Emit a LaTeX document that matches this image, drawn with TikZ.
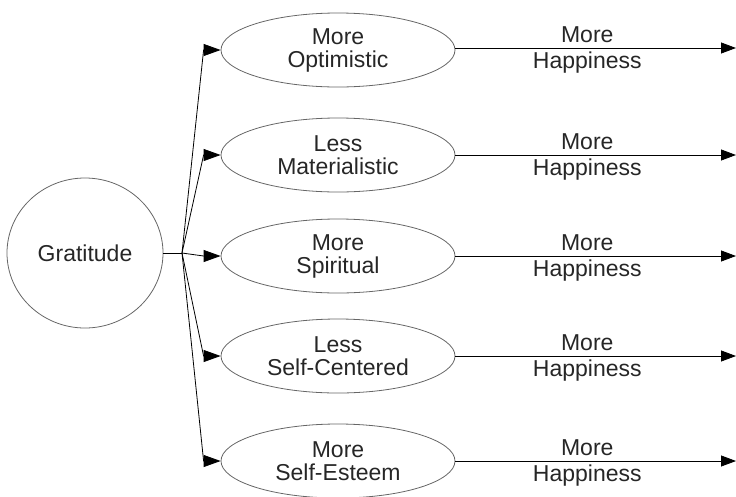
\documentclass[tikz,border=0pt]{standalone}
\usepackage{fontspec}
\setmainfont{Liberation Sans}
\usetikzlibrary{arrows.meta,shapes.geometric}

\begin{document}
\begin{tikzpicture}[
    x=1pt, y=-1pt,
    every node/.style={color=black!85, font=\fontsize{23}{23}\selectfont, align=center},
    cause/.style={ellipse, draw=black!60, line width=0.8pt, inner sep=0pt,
    minimum width=156, minimum height=150},
    effect/.style={ellipse, draw=black!60, line width=0.8pt, inner sep=0pt,
    minimum width=234, minimum height=74},
    more/.style={pos=0.47, anchor=base, yshift=6pt},
    happy/.style={pos=0.47, anchor=base, yshift=-20pt},
    pile/.style={line width=0.8pt, -{Triangle[length=17pt, width=12pt]}},
    result/.style={line width=0.8pt, -{Triangle[length=15pt, width=11pt]}}
    ]
    \useasboundingbox (0,0) rectangle (736,496);

    % cause
    \node[cause] (grat) at (85,253) {Gratitude};
    \coordinate (split) at (182,253);

    % effects
    \node[effect] (opt) at (338,50) {More\\Optimistic};
    \node[effect] (mat) at (338,155) {Less\\Materialistic};
    \node[effect] (spi) at (338,256) {More\\Spiritual};
    \node[effect] (cen) at (338,356) {Less\\Self-Centered};
    \node[effect] (est) at (338,461) {More\\Self-Esteem};

    % free ends
    \coordinate (end1) at (736,48);
    \coordinate (end2) at (736,155);
    \coordinate (end3) at (736,256);
    \coordinate (end4) at (736,356);
    \coordinate (end5) at (736,461);

    % gratitude to effects
    \draw[line width=0.8pt] (grat.east) -- (split);
    \draw[pile] (split) -- ([xshift=-17]opt.west) -- (opt.west);
    \draw[pile] (split) -- ([xshift=-17]mat.west) -- (mat.west);
    \draw[pile] (split) -- ([xshift=-17]spi.west) -- (spi.west);
    \draw[pile] (split) -- ([xshift=-17]cen.west) -- (cen.west);
    \draw[pile] (split) -- ([xshift=-17]est.west) -- (est.west);

    % effects to happiness
    \draw[result] (opt.east |- end1) -- (end1) node[more] {More} node[happy] {Happiness};
    \draw[result] (mat.east) -- (end2) node[more] {More} node[happy] {Happiness};
    \draw[result] (spi.east) -- (end3) node[more] {More} node[happy] {Happiness};
    \draw[result] (cen.east) -- (end4) node[more] {More} node[happy] {Happiness};
    \draw[result] (est.east) -- (end5) node[more] {More} node[happy] {Happiness};

\end{tikzpicture}
\end{document}
